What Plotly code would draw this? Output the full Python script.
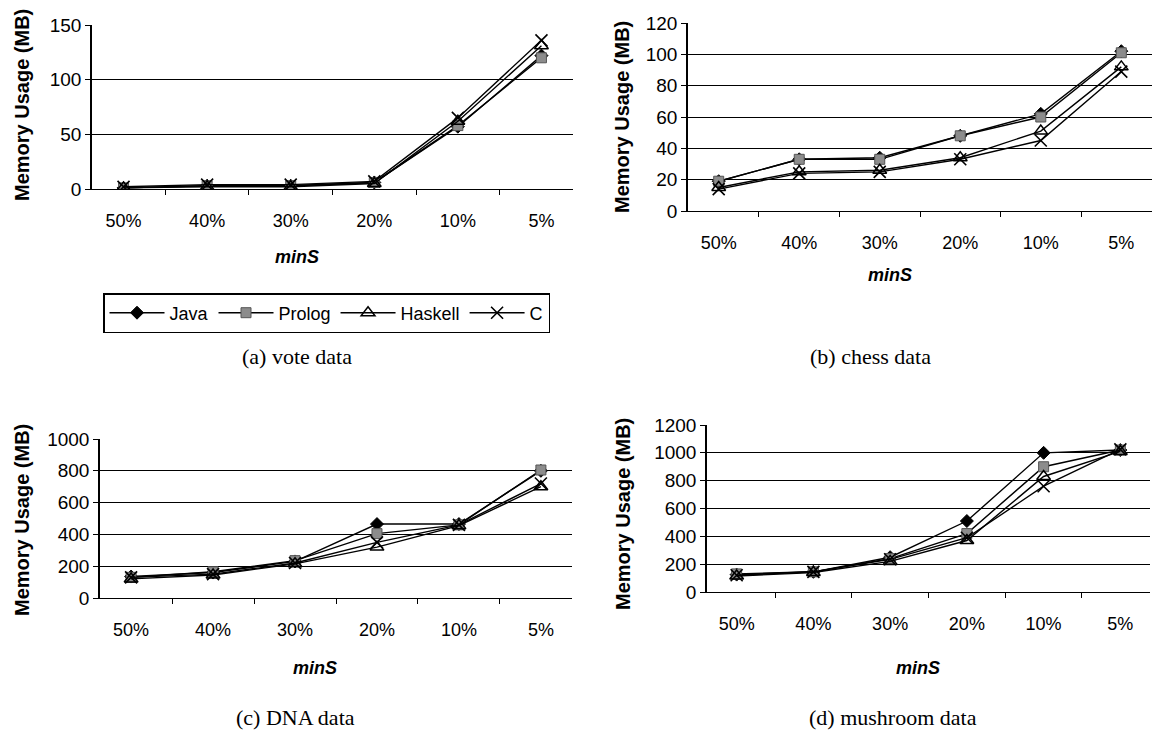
import plotly.graph_objects as go

categories = ["50%", "40%", "30%", "20%", "10%", "5%"]
series_names = ["Java", "Prolog", "Haskell", "C"]

vote_java = [1, 3, 3, 6, 57, 122]
vote_prolog = [1, 3, 3, 6, 58, 120]
vote_haskell = [1, 2, 2, 5, 62, 131]
vote_c = [2, 4, 4, 7, 65, 136]

chess_java = [19, 33, 34, 48, 62, 102]
chess_prolog = [19, 33, 33, 48, 60, 101]
chess_haskell = [15, 25, 26, 34, 51, 92]
chess_c = [14, 24, 25, 33, 45, 89]

dna_java = [135, 160, 230, 465, 465, 800]
dna_prolog = [130, 165, 235, 405, 460, 805]
dna_haskell = [120, 145, 215, 320, 455, 700]
dna_c = [130, 150, 220, 350, 460, 720]

mush_java = [125, 145, 250, 510, 1000, 1020]
mush_prolog = [130, 145, 240, 420, 900, 1020]
mush_haskell = [115, 140, 220, 370, 830, 1010]
mush_c = [120, 145, 235, 390, 760, 1025]

y_ranges = [[0, 150], [0, 120], [0, 1000], [0, 1200]]
y_dticks = [50, 20, 200, 200]
captions = ["(a) vote data", "(b) chess data", "(c) DNA data", "(d) mushroom data"]

W, H = 1152, 746
def px(x):
    return x / W
def py(y):
    return 1 - y / H

# pixel boxes: (left, right, top, bottom)
boxes = [(92, 573, 25, 189), (688, 1152, 23, 211), (100, 572, 439, 598), (707, 1150, 425, 592)]

data_sets = [
    [vote_java, vote_prolog, vote_haskell, vote_c],
    [chess_java, chess_prolog, chess_haskell, chess_c],
    [dna_java, dna_prolog, dna_haskell, dna_c],
    [mush_java, mush_prolog, mush_haskell, mush_c],
]

markers = [
    dict(symbol="diamond", size=10, color="black", line=dict(color="black", width=1)),
    dict(symbol="square", size=10, color="#8c8c8c", line=dict(color="#555555", width=1)),
    dict(symbol="triangle-up-open", size=12, color="black", line=dict(color="black", width=1.5)),
    dict(symbol="x-thin-open", size=12, color="black", line=dict(color="black", width=1.6)),
]

fig = go.Figure()
for i, ds in enumerate(data_sets):
    ax = "" if i == 0 else str(i + 1)
    for j, vals in enumerate(ds):
        fig.add_trace(go.Scatter(
            x=categories, y=vals, mode="lines+markers", name=series_names[j],
            line=dict(color="black", width=1.4), marker=markers[j],
            xaxis="x" + ax, yaxis="y" + ax, showlegend=(i == 0),
        ))

layout = dict(
    width=W, height=H, margin=dict(l=0, r=0, t=0, b=0, pad=0, autoexpand=False),
    paper_bgcolor="white", plot_bgcolor="white",
    font=dict(family="Liberation Sans, Arial", size=18, color="black"),
    legend=dict(orientation="h", x=px(103), y=py(293), xanchor="left", yanchor="top",
                bordercolor="black", borderwidth=1.5, font=dict(size=18),
                itemwidth=55, tracegroupgap=0),
    annotations=[],
)

for i, (l, r, t, b) in enumerate(boxes):
    ax = "" if i == 0 else str(i + 1)
    layout["xaxis" + ax] = dict(
        domain=[px(l), px(r)], anchor="y" + ax, type="category", automargin=False,
        showline=True, linecolor="black", linewidth=1,
        ticks="outside", ticklen=5, tickcolor="black", tickson="boundaries",
        showgrid=False, tickfont=dict(size=18), fixedrange=True,
        ticklabelstandoff=15,
    )
    layout["yaxis" + ax] = dict(
        domain=[py(b), py(t)], anchor="x" + ax, range=y_ranges[i], dtick=y_dticks[i],
        automargin=False,
        showline=True, linecolor="black", linewidth=1.5,
        ticks="outside", ticklen=5, tickcolor="black",
        showgrid=True, gridcolor="black", gridwidth=1, zeroline=False,
        tickfont=dict(size=19),
    )

# axis titles and captions
ytitle_x = [22, 622, 22, 623]
ytitle_y = [105, 117, 520, 514]
xtitle_y = [257, 275, 668, 668]
xtitle_x = [297, 890, 315, 918]
cap_pos = [(297, 356), (870, 356), (295, 717), (893, 717)]
for i in range(4):
    layout["annotations"].append(dict(
        text="<b>Memory Usage (MB)</b>", x=px(ytitle_x[i]), y=py(ytitle_y[i]),
        xref="paper", yref="paper", textangle=-90, showarrow=False,
        font=dict(size=20, family="Liberation Sans, Arial"), xanchor="center", yanchor="middle"))
    layout["annotations"].append(dict(
        text="<b><i>minS</i></b>", x=px(xtitle_x[i]), y=py(xtitle_y[i]),
        xref="paper", yref="paper", showarrow=False,
        font=dict(size=18, family="Liberation Sans, Arial"), xanchor="center", yanchor="middle"))
    layout["annotations"].append(dict(
        text=captions[i], x=px(cap_pos[i][0]), y=py(cap_pos[i][1]),
        xref="paper", yref="paper", showarrow=False,
        font=dict(size=22, family="Liberation Serif, Times New Roman"), xanchor="center", yanchor="middle"))

fig.update_layout(**layout)
fig.write_html("out.html", config={"displayModeBar": False},
               post_script="document.body.style.margin='0';document.body.style.overflow='hidden';")
